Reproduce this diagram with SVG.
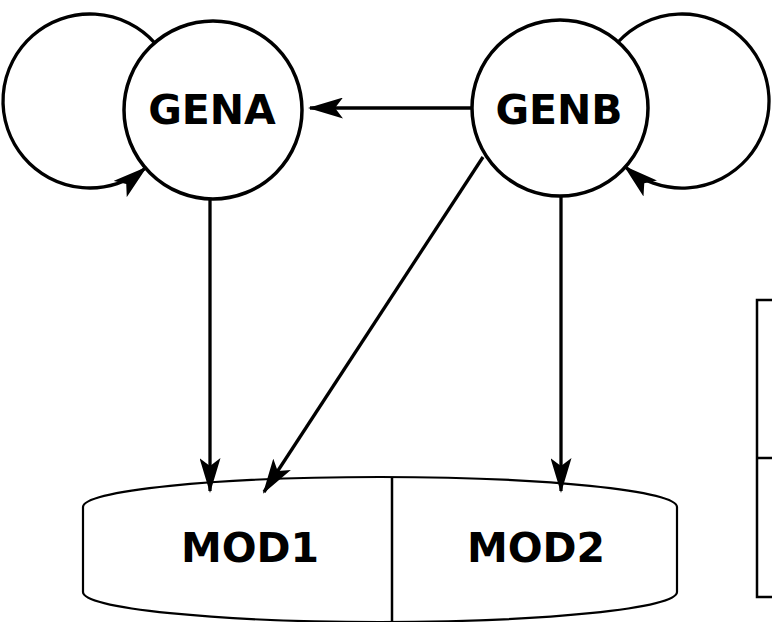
<svg xmlns="http://www.w3.org/2000/svg" width="772" height="622" viewBox="0 0 772 622">
<style>
.node{fill:#fff;stroke:#000;stroke-width:3.5}
.lbl{font-family:"DejaVu Sans",Verdana,sans-serif;font-weight:bold;font-size:41px;fill:#000;text-anchor:middle}
.edge{fill:none;stroke:#000;stroke-width:3.3;marker-end:url(#ah)}
.thin{fill:#fff;stroke:#000;stroke-width:2.2}
</style>
<defs>
<marker id="ah" viewBox="0 0 35 21" refX="33" refY="10.5" markerWidth="35" markerHeight="21" markerUnits="userSpaceOnUse" orient="auto">
<path d="M0,0 L35,10.5 L0,21 L8,10.5 Z" fill="#000"/>
</marker>
</defs>
<rect width="772" height="622" fill="#fff"/>
<g id="GENA">
<circle class="node" cx="213" cy="110" r="89"/>
<text class="lbl" x="212" y="124">GENA</text>
</g>
<g id="GENB">
<circle class="node" cx="560" cy="108" r="88"/>
<text class="lbl" x="559" y="124">GENB</text>
</g>
<g id="MOD">
<path class="thin" d="M83,507 A297,30 0 0 1 677,507 L677,592 A297,30 0 0 1 83,592 Z"/>
<line x1="392" y1="477" x2="392" y2="622" stroke="#000" stroke-width="2.5"/>
<g id="MOD1"><text class="lbl" x="250" y="562">MOD1</text></g>
<g id="MOD2"><text class="lbl" x="536" y="562">MOD2</text></g>
</g>
<g id="table">
<rect x="757" y="300" width="60" height="297" fill="none" stroke="#000" stroke-width="2.5"/>
<line x1="757" y1="458" x2="772" y2="458" stroke="#000" stroke-width="2.5"/>
</g>
<g id="connectors">
<path class="edge" d="M154.7,42.8 A87,87 0 1 0 145.5,168"/>
<path class="edge" d="M618.1,42 A87,87 0 1 1 625.3,167"/>
<line class="edge" x1="472" y1="108" x2="310" y2="108"/>
<line class="edge" x1="210" y1="199" x2="210" y2="491"/>
<line class="edge" x1="483" y1="157" x2="264" y2="492"/>
<line class="edge" x1="561" y1="196" x2="561" y2="491"/>
</g>
</svg>
